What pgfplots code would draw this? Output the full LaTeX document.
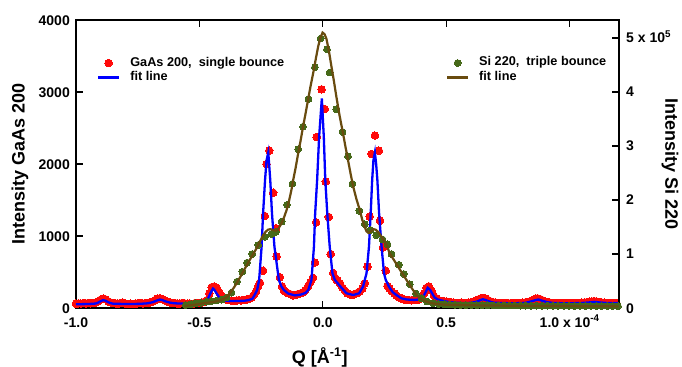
\documentclass[border=0pt]{standalone}
\usepackage{fontspec}
\setmainfont{Liberation Sans}
\usepackage{pgfplots}
\pgfplotsset{compat=1.18}
\usepackage{pgfplotstable}

\definecolor{gred}{RGB}{255,10,10}
\definecolor{fblue}{RGB}{0,0,255}
\definecolor{sgreen}{RGB}{70,105,25}
\definecolor{sbrown}{RGB}{105,75,15}

% GaAs 200 single bounce data (x in 1e-4 A^-1)
\pgfplotstableread{
x y
-1.00 60
-0.99 65
-0.98 62
-0.97 68
-0.96 64
-0.95 70
-0.94 66
-0.93 72
-0.92 75
-0.91 90
-0.90 115
-0.89 130
-0.88 120
-0.87 95
-0.86 78
-0.85 70
-0.84 65
-0.83 60
-0.82 70
-0.81 75
-0.80 62
-0.79 58
-0.78 60
-0.77 55
-0.76 62
-0.75 66
-0.74 70
-0.73 64
-0.72 68
-0.71 72
-0.70 80
-0.69 90
-0.68 110
-0.67 130
-0.66 135
-0.65 125
-0.64 105
-0.63 90
-0.62 80
-0.61 72
-0.60 68
-0.59 65
-0.58 62
-0.57 70
-0.56 66
-0.55 60
-0.54 64
-0.53 58
-0.52 66
-0.51 70
-0.50 72
-0.49 78
-0.48 85
-0.47 110
-0.46 200
-0.45 290
-0.44 300
-0.43 280
-0.42 220
-0.41 170
-0.40 135
-0.39 115
-0.38 110
-0.37 105
-0.36 100
-0.35 102
-0.34 110
-0.33 105
-0.32 112
-0.31 118
-0.30 125
-0.29 140
-0.28 180
-0.27 230
-0.262 300
-0.255 351
-0.242 518
-0.235 1278
-0.228 2000
-0.217 2185
-0.201 1601
-0.190 1107
-0.187 713
-0.174 426
-0.165 300
-0.158 250
-0.15 225
-0.14 205
-0.13 190
-0.12 175
-0.11 180
-0.10 195
-0.09 205
-0.08 220
-0.07 250
-0.06 300
-0.05 360
-0.04 420
-0.032 630
-0.027 1190
-0.025 2375
-0.005 3037
0.008 2764
0.012 1755
0.024 1264
0.032 750
0.042 486
0.05 420
0.055 389
0.06 380
0.07 340
0.08 280
0.09 240
0.10 205
0.11 190
0.12 180
0.13 195
0.14 210
0.15 230
0.16 270
0.17 343
0.181 574
0.190 1270
0.197 2140
0.211 2395
0.227 2185
0.232 1213
0.244 843
0.255 518
0.262 305
0.27 270
0.28 230
0.29 200
0.30 170
0.31 145
0.32 130
0.33 120
0.34 112
0.35 110
0.36 108
0.37 110
0.38 112
0.39 120
0.40 140
0.41 200
0.42 280
0.43 300
0.44 240
0.45 170
0.46 130
0.47 110
0.48 100
0.49 95
0.50 90
0.51 85
0.52 80
0.53 75
0.54 72
0.55 70
0.56 74
0.57 70
0.58 72
0.59 76
0.60 80
0.61 88
0.62 100
0.63 120
0.64 135
0.65 140
0.66 130
0.67 110
0.68 92
0.69 82
0.70 75
0.71 72
0.72 70
0.73 68
0.74 72
0.75 70
0.76 66
0.77 70
0.78 68
0.79 72
0.80 70
0.81 74
0.82 78
0.83 85
0.84 95
0.85 110
0.86 128
0.87 135
0.88 125
0.89 108
0.90 92
0.91 82
0.92 76
0.93 72
0.94 70
0.95 68
0.96 72
0.97 70
0.98 66
0.99 68
1.00 70
1.01 66
1.02 68
1.03 72
1.04 70
1.05 74
1.06 78
1.07 82
1.08 88
1.09 92
1.10 95
1.11 90
1.12 84
1.13 78
1.14 74
1.15 72
1.16 70
1.17 68
1.18 70
1.19 68
}\gaasdata

% GaAs fit line
\pgfplotstableread{
x y
-1.00 52
-0.95 55
-0.92 62
-0.91 75
-0.90 95
-0.89 110
-0.88 100
-0.87 82
-0.86 68
-0.85 60
-0.82 57
-0.78 55
-0.74 58
-0.71 65
-0.69 80
-0.675 100
-0.66 118
-0.65 110
-0.64 95
-0.62 75
-0.60 65
-0.56 60
-0.52 60
-0.49 68
-0.47 100
-0.46 170
-0.45 240
-0.445 270
-0.44 255
-0.43 200
-0.42 150
-0.41 120
-0.40 105
-0.38 98
-0.35 97
-0.32 100
-0.30 110
-0.285 130
-0.275 190
-0.266 250
-0.258 389
-0.248 851
-0.242 1315
-0.234 1780
-0.228 2050
-0.221 2160
-0.213 1780
-0.206 1315
-0.196 851
-0.178 389
-0.168 300
-0.158 250
-0.14 200
-0.113 175
-0.09 185
-0.07 210
-0.059 250
-0.046 389
-0.036 851
-0.031 1315
-0.023 1780
-0.015 2375
-0.004 2910
0.004 2375
0.010 1780
0.018 1315
0.028 851
0.039 482
0.049 389
0.072 296
0.096 204
0.123 180
0.147 204
0.163 296
0.177 482
0.187 851
0.194 1315
0.200 1780
0.205 2050
0.211 2160
0.216 2000
0.221 1780
0.228 1315
0.238 851
0.248 482
0.255 389
0.268 296
0.283 220
0.298 180
0.318 135
0.34 118
0.37 112
0.39 118
0.405 150
0.415 210
0.425 280
0.435 250
0.445 190
0.453 146
0.465 120
0.48 105
0.50 90
0.53 75
0.57 68
0.60 72
0.62 85
0.635 105
0.648 122
0.66 110
0.675 90
0.69 75
0.73 68
0.78 66
0.82 72
0.845 92
0.86 108
0.874 118
0.89 100
0.91 80
0.94 68
1.00 66
1.05 70
1.08 78
1.10 85
1.12 78
1.15 70
1.198 68
}\gaasfit

% Si 220 triple bounce data (y in 1e5)
\pgfplotstableread{
x y
-0.555 0.056
-0.534 0.072
-0.514 0.086
-0.494 0.099
-0.471 0.116
-0.451 0.13
-0.430 0.138
-0.410 0.155
-0.390 0.195
-0.370 0.285
-0.347 0.49
-0.326 0.67
-0.307 0.84
-0.286 1.0
-0.262 1.167
-0.235 1.32
-0.208 1.37
-0.190 1.41
-0.167 1.60
-0.145 1.91
-0.123 2.30
-0.100 2.94
-0.080 3.36
-0.058 3.87
-0.032 4.46
-0.009 4.99
0.017 4.79
0.028 4.36
0.055 3.68
0.080 3.26
0.102 2.81
0.120 2.30
0.148 1.80
0.170 1.55
0.193 1.44
0.216 1.35
0.242 1.27
0.262 1.18
0.278 1.00
0.308 0.80
0.328 0.63
0.352 0.44
0.377 0.27
0.400 0.18
0.422 0.12
0.447 0.086
0.470 0.074
0.492 0.068
0.514 0.064
0.536 0.06
0.558 0.057
0.580 0.055
0.602 0.053
0.624 0.051
0.646 0.05
0.668 0.049
0.690 0.048
0.712 0.047
0.734 0.046
0.756 0.045
0.778 0.045
0.800 0.044
0.822 0.044
0.844 0.043
0.866 0.043
0.888 0.042
0.910 0.042
0.932 0.041
0.954 0.041
0.976 0.04
0.998 0.04
1.020 0.04
1.042 0.039
1.064 0.039
1.086 0.038
1.108 0.038
1.130 0.037
1.152 0.037
1.174 0.036
1.196 0.036
}\sidata

% Si fit line
\pgfplotstableread{
x y
-0.56 0.035
-0.52 0.06
-0.48 0.09
-0.44 0.115
-0.41 0.15
-0.39 0.2
-0.377 0.27
-0.36 0.38
-0.349 0.46
-0.335 0.57
-0.323 0.67
-0.31 0.78
-0.296 0.89
-0.282 1.0
-0.268 1.11
-0.255 1.23
-0.242 1.34
-0.232 1.41
-0.222 1.45
-0.212 1.46
-0.2 1.44
-0.19 1.43
-0.18 1.47
-0.167 1.57
-0.157 1.68
-0.147 1.81
-0.137 1.98
-0.127 2.19
-0.12 2.37
-0.11 2.6
-0.1 2.86
-0.09 3.1
-0.08 3.36
-0.07 3.6
-0.06 3.85
-0.05 4.1
-0.039 4.35
-0.029 4.6
-0.019 4.84
-0.01 5.0
-0.001 5.1
0.007 5.07
0.015 4.98
0.025 4.75
0.035 4.47
0.045 4.2
0.055 3.91
0.068 3.56
0.082 3.23
0.092 2.98
0.102 2.74
0.112 2.5
0.123 2.25
0.136 2.02
0.15 1.81
0.16 1.63
0.17 1.5
0.177 1.42
0.185 1.39
0.195 1.42
0.205 1.46
0.214 1.45
0.224 1.41
0.238 1.32
0.25 1.23
0.26 1.15
0.271 1.01
0.288 0.89
0.305 0.765
0.322 0.64
0.339 0.52
0.36 0.37
0.379 0.24
0.4 0.16
0.42 0.117
0.44 0.09
0.46 0.074
0.5 0.06
0.6 0.05
0.8 0.04
1.0 0.035
1.198 0.03
}\sifit

\pgfplotsset{
  common/.style={
    scale only axis, width=543bp, height=288bp,
    xmin=-1.0, xmax=1.2,
    clip=false,
    clip marker paths=true,
    tick align=inside,
    major tick length=7bp,
    axis line style={line width=1.2bp},
    every tick/.style={black, line width=1.2bp},
    tick label style={font=\fontsize{14bp}{16bp}\selectfont\bfseries, inner sep=0pt},
    label style={font=\fontsize{18bp}{20bp}\selectfont\bfseries},
    legend cell align=left,
    legend style={draw=none, fill=none, inner sep=0pt, outer sep=0pt,
      anchor=north west, row sep=2.5bp, column sep=10bp,
      font=\fontsize{12.7bp}{14bp}\selectfont\bfseries,
      nodes={inner sep=0pt, text height=9bp, text depth=3bp}},
  },
  lineleg/.style={legend image code/.code={\draw[##1] (0bp,0bp) -- (21bp,0bp);}},
  markleg/.style={legend image code/.code={\draw[##1] plot coordinates {(10.5bp,0bp)};}},
}

\begin{document}
\begin{tikzpicture}
\path[use as bounding box] (-76bp,-59bp) rectangle (606bp,308bp);
\begin{axis}[common,
  ymin=0, ymax=4000,
  ytick={0,1000,2000,3000,4000},
  yticklabels={0,1000,2000,3000,4000},
  ytick pos=left,
  xtick={-1,-0.5,0,0.5,1},
  xticklabels={-1.0,-0.5,0.0,0.5,{1.0 x 10\textsuperscript{-4}}},
  xticklabel style={anchor=base, yshift=-19bp},
  yticklabel style={anchor=base east, xshift=-6bp, yshift=-5bp},
  xlabel={Q [Å\textsuperscript{-1}]},
  xlabel style={at={(axis description cs:0.449,-0.191)}, anchor=base},
  ylabel={Intensity GaAs 200},
  ylabel style={at={(axis description cs:-0.1031,0.5)}, anchor=center},
  legend style={at={(axis description cs:0.0387,0.8715)}},
]
\addplot[only marks, mark=*, mark size=3.8bp, mark options={fill=gred, draw=gred, line width=0pt}, markleg] table[x=x,y=y]{\gaasdata};
\addlegendentry{GaAs 200,~ single bounce}
\addplot[fblue, line width=2.3bp, lineleg] table[x=x,y=y]{\gaasfit};
\addlegendentry{fit line}
\end{axis}
\begin{axis}[common,
  ymin=0, ymax=5.3333,
  axis x line=none,
  axis y line*=right,
  ytick={0,1,2,3,4,5},
  yticklabels={0,1,2,3,4,{5 x 10\textsuperscript{5}}},
  yticklabel style={anchor=base west, xshift=7bp, yshift=-5bp},
  ylabel={Intensity Si 220},
  ylabel style={at={(axis description cs:1.0939,0.5)}, anchor=center, rotate=180},
  legend style={at={(axis description cs:0.6814,0.8715)}},
]
\addplot[only marks, mark=*, mark size=3.4bp, mark options={fill=sgreen, draw=sgreen, line width=0pt}, markleg] table[x=x,y=y]{\sidata};
\addlegendentry{Si 220,~ triple bounce}
\addplot[sbrown, line width=2.2bp, lineleg] table[x=x,y=y]{\sifit};
\addlegendentry{fit line}
\end{axis}
\end{tikzpicture}
\end{document}
